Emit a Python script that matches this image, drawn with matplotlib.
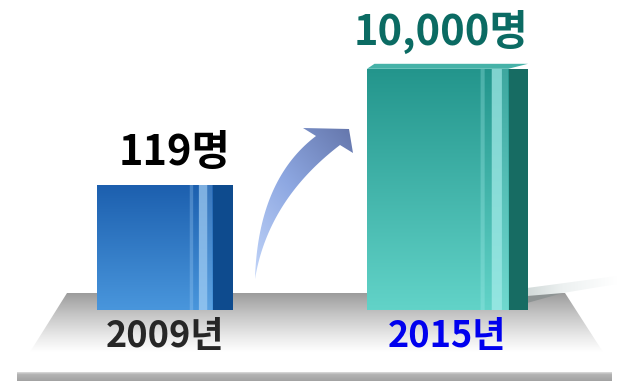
import numpy as np
import matplotlib
matplotlib.use("Agg")
import matplotlib.pyplot as plt
from matplotlib.patches import Polygon
from matplotlib.colors import to_rgb

# ---- data -------------------------------------------------------------
years = ["2009년", "2015년"]
members = [119, 10000]
value_labels = ["119명", "10,000명"]

# ---- styling ----------------------------------------------------------
W, H = 617, 381
FONT = ["Noto Sans CJK KR", "DejaVu Sans"]
year_colors = ["#262626", "#0000ee"]
value_colors = ["#000000", "#0b6b63"]
value_offsets = [(7, 8), (-5, 11)]         # points
front_top = ["#1c5fae", "#23958c"]
front_bottom = ["#4996dc", "#62d3c8"]
stripe_colors = ["#a8d2f6", "#a8eeec"]
side_colors = ["#0e4b8e", "#176c63"]
top_face_colors = ["#2a6cb8", "#46b2a8"]
top_depth = [0, 5]                          # pixels
front_w = [0.41, 0.50]
side_w = 0.07

fig = plt.figure(figsize=(W / 100, H / 100), dpi=100)
fig.patch.set_facecolor("white")

# background layer in pixel units (y grows downward)
bg = fig.add_axes([0, 0, 1, 1], zorder=0)
bg.set_xlim(0, W)
bg.set_ylim(H, 0)
bg.axis("off")


def vgrad(stops, n=200):
    """Vertical gradient image (n x 2 x 3) through the given colour stops."""
    pos = np.array([p for p, _ in stops])
    cols = np.array([to_rgb(c) for _, c in stops])
    t = np.linspace(0, 1, n)
    rgb = np.stack([np.interp(t, pos, cols[:, k]) for k in range(3)], axis=-1)
    return np.repeat(rgb[:, None, :], 2, axis=1)


# platform
plat = Polygon([(67, 293), (565, 293), (603, 352), (30, 352)], closed=True,
               facecolor="none", edgecolor="none")
bg.add_patch(plat)
im = bg.imshow(vgrad([(0, "#9c9c9c"), (0.35, "#c4c4c4"), (0.75, "#ebebeb"), (1, "#ffffff")]),
               extent=(30, 603, 352, 293), origin="upper", aspect="auto",
               interpolation="bilinear", zorder=1)
im.set_clip_path(plat)

# soft shadow to the right of the tall bar
bg.add_patch(Polygon([(527, 293), (563, 293), (527, 303)], closed=True,
                     facecolor="#8e9494", edgecolor="none", zorder=2))
shadow = Polygon([(527, 288), (617, 276), (617, 284), (563, 293), (527, 296)],
                 closed=True, facecolor="none", edgecolor="none")
bg.add_patch(shadow)
sx = np.linspace(0, 1, 100)
srow = np.array([np.interp(sx, [0, 0.4, 1], [a, b, 1.0]) for a, b in
                 zip(to_rgb("#d2dad9"), to_rgb("#edf1f1"))]).T
im = bg.imshow(np.repeat(srow[None, :, :], 2, axis=0), extent=(527, 617, 296, 276),
               origin="upper", aspect="auto", interpolation="bilinear", zorder=2)
im.set_clip_path(shadow)

# bottom strip
strip = Polygon([(17, 372), (612, 372), (612, 381), (17, 381)], closed=True,
                facecolor="none", edgecolor="none")
bg.add_patch(strip)
im = bg.imshow(vgrad([(0, "#dedede"), (0.25, "#b4b4b4"), (1, "#a2a2a2")]),
               extent=(17, 612, 381, 372), origin="upper", aspect="auto",
               interpolation="bilinear", zorder=1)
im.set_clip_path(strip)


# curved growth arrow
def qbez(p0, c, p2, n=40):
    t = np.linspace(0, 1, n)[:, None]
    p0, c, p2 = map(np.array, (p0, c, p2))
    return (1 - t) ** 2 * p0 + 2 * (1 - t) * t * c + t ** 2 * p2


outer = qbez((255, 279), (258, 180), (316, 136))
inner = qbez((255, 279), (268, 200), (340, 145))[::-1]
head = np.array([(303, 128), (349, 129), (353, 153)])
arrow_pts = np.vstack([outer, head, inner])
arrow = Polygon(arrow_pts, closed=True, facecolor="none", edgecolor="none")
bg.add_patch(arrow)
gx, gy = np.meshgrid(np.linspace(0, 1, 120), np.linspace(0, 1, 160))
t = np.clip(0.45 * gx + 0.55 * (1 - gy), 0, 1)
c0, c1, c2 = (np.array(to_rgb(c)) for c in ("#c4d7fa", "#8ea8e2", "#6273a8"))
tt = t[..., None]
arrow_rgb = np.where(tt < 0.5, c0 + (c1 - c0) * (tt / 0.5), c1 + (c2 - c1) * ((tt - 0.5) / 0.5))
im = bg.imshow(arrow_rgb, extent=(250, 356, 282, 124), origin="upper", aspect="auto",
               interpolation="bilinear", zorder=3)
im.set_clip_path(arrow)

# ---- bar chart (log scale) ---------------------------------------------
ax = fig.add_axes([0, 71 / H, 1, 301.5 / H], zorder=2)
ax.set_facecolor("none")
ax.set_yscale("log")
ax.set_ylim(1, 1e5)
ax.set_xlim(-165 / 282.5, (W - 165) / 282.5)
for s in ax.spines.values():
    s.set_visible(False)
ax.yaxis.set_visible(False)

x = np.arange(len(years))
to_axes = ax.transData + ax.transAxes.inverted()
to_bg = ax.transData + bg.transData.inverted()

for i, (xi, v) in enumerate(zip(x, members)):
    fc = xi - side_w / 2
    front = ax.bar(fc, v, width=front_w[i], color="none", edgecolor="none")[0]
    ax.bar(fc + front_w[i] / 2 + side_w / 2, v, width=side_w,
           color=side_colors[i], edgecolor="none")

    # front-face shading: vertical gradient plus glossy stripes on the right
    (x0, y1), (x1, y2) = to_axes.transform([(fc - front_w[i] / 2, 1), (fc + front_w[i] / 2, v)])
    ny, nx = 160, 140
    base = vgrad([(0, front_top[i]), (1, front_bottom[i])], ny)[:, :1, :]
    img = np.repeat(base, nx, axis=1).copy()
    cols = np.linspace(0, 1, nx)
    stripe = np.array(to_rgb(stripe_colors[i]))
    for lo, hi, a in [(0.80, 0.83, 0.30), (0.88, 0.95, 0.70), (0.95, 1.0, 0.20)]:
        m = (cols >= lo) & (cols < hi)
        img[:, m, :] = img[:, m, :] * (1 - a) + stripe * a
    im = ax.imshow(img, extent=(x0, x1, y1, y2), transform=ax.transAxes,
                   origin="upper", aspect="auto", interpolation="bilinear", zorder=2)
    im.set_clip_path(front)

    # thin top face seen in perspective
    if top_depth[i] > 0:
        (lx, ty), (rx, _) = to_bg.transform([(fc - front_w[i] / 2, v),
                                             (fc + front_w[i] / 2 + side_w, v)])
        d = top_depth[i]
        sx_px = to_bg.transform([(0, v)])[0][0] - to_bg.transform([(side_w, v)])[0][0]
        bg.add_patch(Polygon([(lx, ty), (lx + 1.5 * d, ty - d), (rx, ty - d),
                              (rx + sx_px, ty)], closed=True,
                             facecolor=top_face_colors[i], edgecolor="none", zorder=4))

    ax.annotate(value_labels[i], (xi, v), xytext=value_offsets[i], textcoords="offset points",
                ha="center", va="bottom", fontsize=30, fontweight="bold",
                family=FONT, color=value_colors[i])

ax.set_xticks(x, years)
ax.tick_params(axis="x", length=0, pad=6)
for lbl, c in zip(ax.get_xticklabels(), year_colors):
    lbl.set_color(c)
    lbl.set_fontsize(26)
    lbl.set_fontweight("bold")
    lbl.set_family(FONT)

fig.savefig("out.png", dpi=100, facecolor="white")
